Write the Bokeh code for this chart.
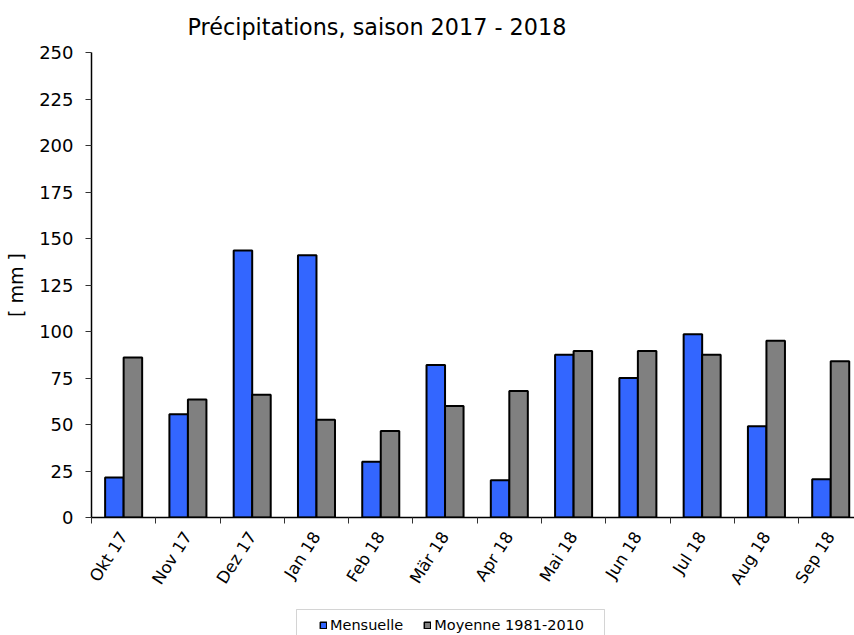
from bokeh.plotting import figure
from bokeh.layouts import column
from bokeh.models import (ColumnDataSource, Range1d, FixedTicker, Legend, LegendItem,
                          BoxAnnotation, Label)
from bokeh.transform import dodge
from bokeh.embed import file_html
from bokeh.resources import INLINE

# ---- data ----
months = ["Okt 17", "Nov 17", "Dez 17", "Jan 18", "Feb 18", "Mär 18",
          "Apr 18", "Mai 18", "Jun 18", "Jul 18", "Aug 18", "Sep 18"]
mensuelle = [21.5, 55.5, 143.5, 141, 30, 82, 20, 87.5, 75, 98.5, 49, 20.5]
moyenne = [86, 63.5, 66, 52.5, 46.5, 60, 68, 89.5, 89.5, 87.5, 95, 84]
y_ticks = [0, 25, 50, 75, 100, 125, 150, 175, 200, 225, 250]
title_text = "Précipitations, saison 2017 - 2018"
y_label = "[ mm ]"
series_names = ["Mensuelle", "Moyenne 1981-2010"]

FONT = "DejaVu Sans"
BLUE = "#3366FF"
GRAY = "#808080"

pos = list(range(1, len(months) + 1))
source = ColumnDataSource(dict(x=pos, m=mensuelle, a=moyenne))

FRAME_LEFT = 91
W = 854
TOP_H = 40      # title strip
MAIN_H = 560    # chart
LEG_H = 35      # legend strip


def strip(height, y0):
    """A bare figure whose data units equal page pixels."""
    f = figure(width=W, height=height, output_backend="svg", toolbar_location=None,
               x_range=Range1d(FRAME_LEFT, W), y_range=Range1d(y0 + height, y0),
               x_axis_location=None, y_axis_location=None,
               min_border_left=FRAME_LEFT, min_border_right=0, min_border_top=0,
               min_border_bottom=0)
    f.outline_line_color = None
    f.xgrid.grid_line_color = None
    f.ygrid.grid_line_color = None
    f.background_fill_color = "white"
    f.border_fill_color = "white"
    return f


# ---- title strip ----
tt = strip(TOP_H, 0)
tt.add_layout(Label(x=187, y=26, text=title_text, text_font=FONT,
                    text_font_size="22.3px", text_color="black",
                    text_baseline="alphabetic", text_align="left"))

# ---- chart ----
p = figure(width=W, height=MAIN_H, output_backend="svg", toolbar_location=None,
           x_range=Range1d(0.5, 12.37), y_range=Range1d(0, 250),
           min_border_left=FRAME_LEFT, min_border_right=0, min_border_top=12,
           min_border_bottom=83)

bw = 0.288
r1 = p.vbar(x=dodge("x", -bw / 2, range=p.x_range), top="m", width=bw,
            source=source, fill_color=BLUE, line_color="black", line_width=2)
r2 = p.vbar(x=dodge("x", bw / 2, range=p.x_range), top="a", width=bw,
            source=source, fill_color=GRAY, line_color="black", line_width=2)

p.xgrid.grid_line_color = None
p.ygrid.grid_line_color = None
p.outline_line_color = None
p.background_fill_color = "white"
p.border_fill_color = "white"

# x axis: labels at centres, ticks at boundaries (as minor ticks)
xa = p.xaxis[0]
xa.ticker = FixedTicker(ticks=pos, minor_ticks=[i + 0.5 for i in range(0, len(months) + 1)])
xa.major_label_overrides = {i: m for i, m in zip(pos, months)}
xa.major_label_orientation = 1.0
xa.major_label_text_font = FONT
xa.major_label_text_font_size = "16.5px"
xa.major_label_text_color = "black"
xa.major_label_standoff = 10
xa.major_tick_in = 0
xa.major_tick_out = 0
xa.minor_tick_in = 0
xa.minor_tick_out = 6
xa.minor_tick_line_color = "#333333"
xa.axis_line_color = "black"
xa.axis_line_width = 1.5

# y axis
ya = p.yaxis[0]
ya.ticker = FixedTicker(ticks=y_ticks)
ya.minor_tick_line_color = None
ya.major_tick_in = 0
ya.major_tick_out = 6
ya.major_tick_line_color = "#333333"
ya.major_label_text_font = FONT
ya.major_label_text_font_size = "18px"
ya.major_label_text_color = "black"
ya.major_label_standoff = 12
ya.axis_line_color = "black"
ya.axis_line_width = 1.5
ya.axis_label = y_label
ya.axis_label_text_font = FONT
ya.axis_label_text_font_size = "19px"
ya.axis_label_text_font_style = "normal"
ya.axis_label_text_color = "black"
ya.axis_label_standoff = 9

# ---- legend strip ----
y_leg = TOP_H + MAIN_H
lg = strip(LEG_H, y_leg)
# legend proxies: zero-height bars shifted far below/right of this strip's ranges
far = 10000
e1 = lg.vbar(x=dodge("x", far, range=lg.x_range),
             top=dodge("m", far, range=lg.y_range),
             bottom=dodge("m", far, range=lg.y_range), width=bw,
             source=source, fill_color=BLUE, line_color="black", line_width=1.5)
e2 = lg.vbar(x=dodge("x", far, range=lg.x_range),
             top=dodge("a", far, range=lg.y_range),
             bottom=dodge("a", far, range=lg.y_range), width=bw,
             source=source, fill_color=GRAY, line_color="black", line_width=1.5)
lg.add_layout(BoxAnnotation(left=296, right=604, top=609, bottom=660,
                            fill_color="white", fill_alpha=1.0,
                            line_color="#707070", line_width=1))
legend = Legend(items=[LegendItem(label=series_names[0], renderers=[e1]),
                       LegendItem(label=series_names[1], renderers=[e2])],
                orientation="horizontal", location=(228, 2),
                label_text_font=FONT, label_text_font_size="14.5px",
                label_text_color="black", label_height=17,
                glyph_width=8, glyph_height=8, label_standoff=3, spacing=20,
                padding=0, margin=0, border_line_color=None,
                background_fill_alpha=0.0)
lg.add_layout(legend, "center")

open("out.html", "w").write(file_html(column(tt, p, lg, spacing=0), INLINE))
